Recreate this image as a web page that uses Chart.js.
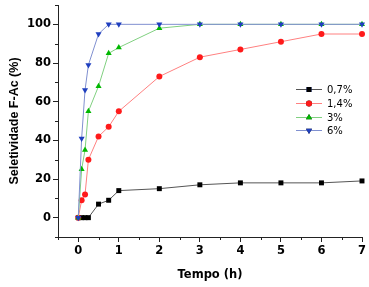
<!DOCTYPE html>
<html>
<head>
<meta charset="utf-8">
<script src="https://cdn.jsdelivr.net/npm/chart.js@4/dist/chart.umd.min.js"></script>
<style>
  html, body { margin: 0; padding: 0; background: #fff; }
  #wrap { width: 369px; height: 287px; }
</style>
</head>
<body>
<div id="wrap"><canvas id="chart" width="369" height="287"></canvas></div>
<script>
// ==========================
//  DATOS
// ==========================
const tempo = [0, 0.083, 0.167, 0.25, 0.5, 0.75, 1, 2, 3, 4, 5, 6, 7];
const serie07 = [0, 0, 0, 0, 7, 9, 14, 15, 17, 18, 18, 18, 19];
const serie14 = [0, 9, 12, 30, 42, 47, 55, 73, 83, 87, 91, 95, 95];
const serie3 = [0, 25, 35, 55, 68, 85, 88, 98, 100, 100, 100, 100, 100];
const serie6 = [0, 41, 66, 79, 95, 100, 100, 100, 100, 100, 100, 100, 100];
const rotulos = ['0,7%', '1,4%', '3%', '6%'];
const xTicks = [0, 1, 2, 3, 4, 5, 6, 7];
const yTicks = [0, 20, 40, 60, 80, 100];

const pts = arr => arr.map((v, i) => ({ x: tempo[i], y: v }));

// ==========================
//  LEYENDA Y TICKS MENORES
// ==========================
const extras = {
  id: 'extras',
  afterDraw(chart) {
    const ctx = chart.ctx;
    const xs = chart.scales.x, ys = chart.scales.y;
    ctx.save();
    ctx.strokeStyle = '#222';
    ctx.lineWidth = 1;
    // ticks menores
    for (let v = -0.5; v <= 7; v += 1) {
      const px = Math.round(xs.getPixelForValue(v)) + 0.5;
      ctx.beginPath(); ctx.moveTo(px, xs.top); ctx.lineTo(px, xs.top + 3); ctx.stroke();
    }
    for (let v = -10; v <= 110; v += 20) {
      const py = Math.round(ys.getPixelForValue(v)) + 0.5;
      ctx.beginPath(); ctx.moveTo(ys.right, py); ctx.lineTo(ys.right - 3, py); ctx.stroke();
    }
    // leyenda
    const x0 = 296, x1 = 322, tx = 327;
    const filas = [89, 103, 117, 130];
    chart.data.datasets.forEach((ds, i) => {
      const y = filas[i];
      ctx.strokeStyle = ds.borderColor;
      ctx.beginPath(); ctx.moveTo(x0, y + 0.5); ctx.lineTo(x1, y + 0.5); ctx.stroke();
      Chart.helpers.drawPoint(ctx, {
        pointStyle: ds.pointStyle, rotation: ds.pointRotation || 0,
        radius: ds.pointRadius, borderWidth: 0
      }, (x0 + x1) / 2, y + 0.5);
      ctx.fillStyle = ds.pointBackgroundColor;
      ctx.fill();
      ctx.fillStyle = '#000';
      ctx.font = '10px "DejaVu Sans"';
      ctx.textBaseline = 'middle';
      ctx.fillText(ds.label, tx, y + 1);
    });
    ctx.restore();
  }
};

// ==========================
//  GRAFICO
// ==========================
function serie(label, data, linea, marca, estilo, radio, rot, orden) {
  return {
    label, data: pts(data),
    borderColor: linea, borderWidth: 1,
    pointStyle: estilo, pointRadius: radio, pointRotation: rot,
    pointBackgroundColor: marca, pointBorderColor: marca, pointBorderWidth: 0,
    order: orden, tension: 0, clip: false
  };
}

new Chart(document.getElementById('chart'), {
  type: 'line',
  data: {
    datasets: [
      serie(rotulos[0], serie07, '#555555', '#000000', 'rect', 3.5, 0, 3),
      serie(rotulos[1], serie14, '#ff8080', '#ff1a1a', 'circle', 3, 0, 2),
      serie(rotulos[2], serie3, '#80d080', '#00b800', 'triangle', 3.5, 0, 1),
      serie(rotulos[3], serie6, '#8090d0', '#1f3fbf', 'triangle', 3.5, 180, 0)
    ]
  },
  options: {
    responsive: false,
    animation: false,
    layout: { padding: { left: 0, right: 7, top: 5, bottom: 1 } },
    plugins: { legend: { display: false }, tooltip: { enabled: false } },
    scales: {
      x: {
        type: 'linear', min: -0.5, max: 7,
        afterBuildTicks: s => { s.ticks = xTicks.map(v => ({ value: v })); },
        afterFit: s => { s.height = 49; s.paddingRight = 0; s.paddingLeft = 0; },
        border: { color: '#222', width: 1 },
        grid: { drawOnChartArea: false, tickLength: 5, color: '#222' },
        ticks: { color: '#000', padding: 2, font: { family: 'DejaVu Sans', weight: 'bold', size: 11.5 } },
        title: { display: true, text: 'Tempo (h)', color: '#000', font: { family: 'DejaVu Sans', weight: 'bold', size: 11.5 } }
      },
      y: {
        min: -10, max: 110,
        afterBuildTicks: s => { s.ticks = yTicks.map(v => ({ value: v })); },
        afterFit: s => { s.width = 58; s.paddingTop = 0; s.paddingBottom = 0; },
        border: { color: '#222', width: 1 },
        grid: { drawOnChartArea: false, tickLength: 5, color: '#222' },
        ticks: { color: '#000', padding: 2, font: { family: 'DejaVu Sans', weight: 'bold', size: 11.5 } },
        title: { display: true, text: 'Seletividade F-Ac (%)', color: '#000', padding: { top: 7, bottom: 4 },
                 font: { family: 'Liberation Sans', weight: 'bold', size: 12.5 } }
      }
    }
  },
  plugins: [extras]
});
</script>
</body>
</html>
